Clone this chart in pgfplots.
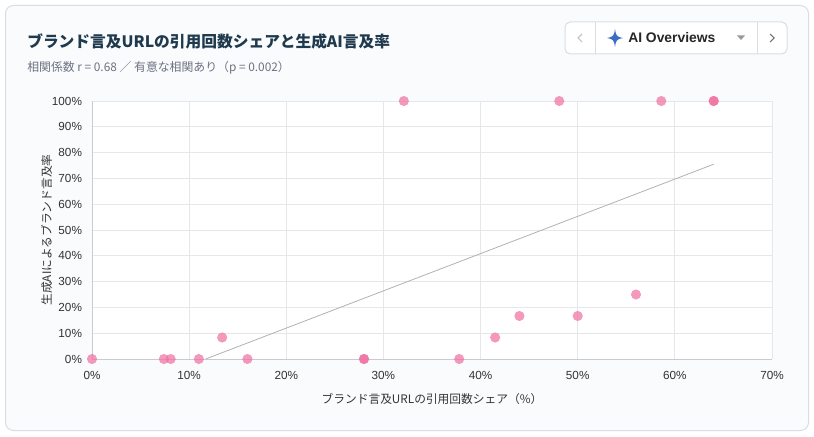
\documentclass[border=0pt]{standalone}
\usepackage{pgfplots}
\pgfplotsset{compat=1.18}
\usepackage{fontspec}
\setmainfont{Noto Sans CJK JP}
\newfontfamily\latinfont{Liberation Sans}
\definecolor{cardbg}{HTML}{FAFBFD}
\definecolor{cardborder}{HTML}{D9DEE4}
\definecolor{titlecol}{HTML}{1F3A4D}
\definecolor{subcol}{HTML}{6B7280}
\definecolor{gridcol}{HTML}{E5E7EB}
\definecolor{axiscol}{HTML}{C8CCD2}
\definecolor{tickcol}{HTML}{333333}
\definecolor{pinkpt}{HTML}{F06EA0}
\definecolor{starblue}{HTML}{3B6FC4}
\pgfplotstableread{
x y
0 0
7.4 0
8.1 0
11.0 0
13.4 8.33
16.0 0
28.0 0
28.0 0
32.1 100
37.8 0
41.5 8.33
44.0 16.67
48.1 100
50.0 16.67
56.0 25
58.6 100
64.0 100
64.0 100
}\pts
\pgfplotstableread{
x y
11.7 0
64.0 75.5
}\trend
\begin{document}
\begin{tikzpicture}[x=0.75pt,y=0.75pt]
% page
\fill[white] (0,0) rectangle (814,436);
\draw[cardborder,fill=cardbg,rounded corners=6pt,line width=0.75pt] (5.5,5.5) rectangle (808.5,430.5);
% title
\node[anchor=west,inner sep=0pt,text=titlecol,font=\bfseries\fontsize{11.8}{14}\selectfont] at (27,436-41) {ブランド言及URLの引用回数シェアと生成AI言及率};
\node[anchor=west,inner sep=0pt,text=subcol,font=\fontsize{8.9}{10}\selectfont] at (27,436-68) {相関係数 r = 0.68 ／ 有意な相関あり（p = 0.002）};
% dropdown
\draw[cardborder,fill=white,rounded corners=4pt,line width=0.75pt] (565,436-22) rectangle (787,436-54);
\draw[cardborder,line width=0.75pt] (595,436-22) -- (595,436-54);
\draw[cardborder,line width=0.75pt] (757,436-22) -- (757,436-54);
\draw[gray!45,line width=0.8pt] (582,436-34) -- (578,436-38) -- (582,436-42);
\draw[gray!90!black,line width=0.8pt] (770,436-34) -- (774,436-38) -- (770,436-42);
\fill[starblue] (615,436-29) .. controls (616,436-36) and (617,436-37) .. (623,436-38)
  .. controls (617,436-39) and (616,436-40) .. (615,436-47)
  .. controls (614,436-40) and (613,436-39) .. (607,436-38)
  .. controls (613,436-37) and (614,436-36) .. (615,436-29) -- cycle;
\node[anchor=west,inner sep=0pt,text=black!85,font=\latinfont\bfseries\fontsize{10.4}{12}\selectfont] at (628,436-38) {AI Overviews};
\fill[gray!80] (737,436-35.5) -- (745,436-35.5) -- (741,436-40) -- cycle;
\coordinate (AO) at (92,77);
% axis
\begin{axis}[
  at={(AO)}, anchor=south west,
  scale only axis, width=510pt, height=193.5pt,
  xmin=0, xmax=70, ymin=0, ymax=100,
  xtick={0,10,...,70}, ytick={0,10,...,100},
  xticklabel={\pgfmathprintnumber{\tick}\%},
  yticklabel={\pgfmathprintnumber{\tick}\%},
  /pgf/number format/assume math mode=true,
  ticklabel style={font=\latinfont\fontsize{8.8}{10}\selectfont, text=tickcol},
  xticklabel style={yshift=-6pt},
  yticklabel style={xshift=-4pt},
  major tick length=0pt,
  grid=major, major grid style={gridcol, line width=0.6pt},
  axis line style={draw=none},
  axis background/.style={fill=white},
  clip=false,
  xlabel={ブランド言及URLの引用回数シェア（\%）},
  ylabel={生成AIによるブランド言及率},
  label style={font=\fontsize{8.8}{10}\selectfont, text=black!80},
  xlabel style={yshift=-3pt},
  ylabel style={yshift=-7pt},
]
\draw[axiscol,line width=0.7pt] (axis cs:0,0) -- (axis cs:0,100);
\draw[axiscol,line width=0.7pt] (axis cs:0,0) -- (axis cs:70,0);
\addplot[black!30, line width=0.6pt] table[x=x,y=y] {\trend};
\addplot[only marks, color=pinkpt, mark=*, mark size=3.8pt, mark options={draw=pinkpt, fill=pinkpt, line width=0pt, fill opacity=0.7, draw opacity=0}] table[x=x,y=y] {\pts};
\end{axis}
\end{tikzpicture}
\end{document}
